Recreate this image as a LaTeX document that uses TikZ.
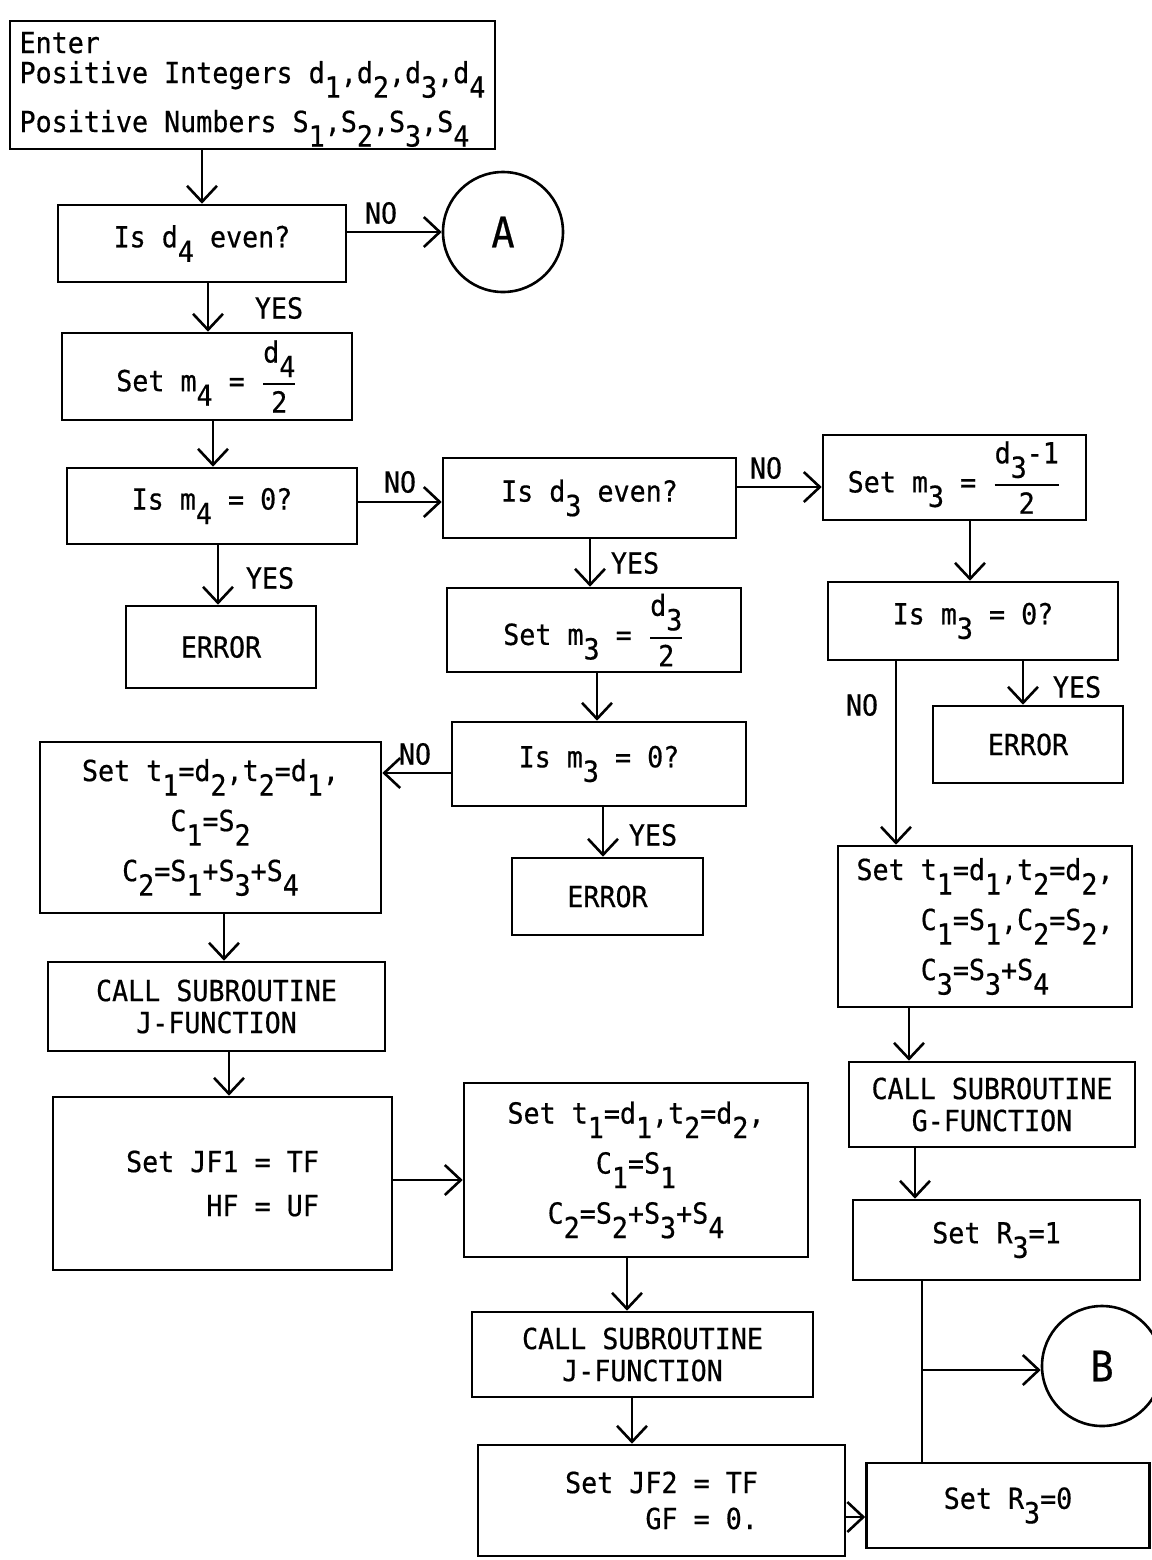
\documentclass[tikz,border=0pt]{standalone}
\usepackage{fontspec}
\usepackage{amsmath}
\setmonofont[FakeStretch=0.92,FakeBold=0.5]{DejaVu Sans Mono}
\usetikzlibrary{arrows.meta}
\newcommand\sbs[1]{\raisebox{-0.5em}{#1}}
\newcommand\frc[2]{$\genfrac{}{}{1pt}{0}{\hbox{\ttfamily #1}}{\hbox{\ttfamily #2}}$}
\newcommand\fsz{\fontsize{14.5}{16}\selectfont\ttfamily}
\tikzset{
  box/.style={draw, line width=1.3pt, inner sep=2pt, font=\fsz},
  circ/.style={draw, circle, line width=1.3pt, minimum size=60pt, inner sep=0pt, font=\fontsize{21}{24}\selectfont\ttfamily},
  lbl/.style={font=\fsz, inner sep=0pt},
  arr/.style={line width=1.3pt, -{Straight Barb[length=8pt,width=15pt]}},
  plain/.style={line width=1.3pt}
}
\begin{document}
\begin{tikzpicture}[x=0.5pt,y=-0.5pt]
\useasboundingbox (0,0) rectangle (1152,1560);
\clip (0,0) rectangle (1152,1560);

% boxes
\node[box, minimum width=242.5pt, minimum height=64pt, inner ysep=0pt, align=left] (enter) at (252.5,85)
  {\rule{0pt}{15pt}Enter\\[-1pt]Positive Integers d\sbs{1},d\sbs{2},d\sbs{3},d\sbs{4}\\[5pt]Positive Numbers S\sbs{1},S\sbs{2},S\sbs{3},S\sbs{4}};
\node[box, minimum width=144pt, minimum height=38.5pt] (d4even) at (202,243.5) {Is d\sbs{4} even?};
\node[circ] (A) at (503,232) {A};
\node[box, minimum width=145pt, minimum height=43.5pt] (setm4) at (207,376.5) {Set m\sbs{4} = \frc{d\sbs{4}}{2}};
\node[box, minimum width=145pt, minimum height=38pt] (m4zero) at (212,506) {Is m\sbs{4} = 0?};
\node[box, minimum width=95pt, minimum height=41pt] (err1) at (221,647) {ERROR};
\node[box, minimum width=146.5pt, minimum height=40pt] (d3even) at (589.5,498) {Is d\sbs{3} even?};
\node[box, minimum width=131.5pt, minimum height=42.5pt] (setm3b) at (954.5,477.5) {Set m\sbs{3} = \frc{d\sbs{3}-1}{2}};
\node[box, minimum width=147pt, minimum height=42pt] (setm3a) at (594,630) {Set m\sbs{3} = \frc{d\sbs{3}}{2}};
\node[box, minimum width=145pt, minimum height=39pt] (m3zeroR) at (973,621) {Is m\sbs{3} = 0?};
\node[box, minimum width=95pt, minimum height=38.5pt] (err3) at (1028,744.5) {ERROR};
\node[box, minimum width=147pt, minimum height=42pt] (m3zeroM) at (599,764) {Is m\sbs{3} = 0?};
\node[box, minimum width=95.5pt, minimum height=38.5pt] (err2) at (607.5,896.5) {ERROR};
\node[box, minimum width=170.5pt, minimum height=85.5pt, align=center] (tL) at (210.5,827.5)
  {Set t\sbs{1}=d\sbs{2},t\sbs{2}=d\sbs{1},\\[6pt]C\sbs{1}=S\sbs{2}\\[6pt]C\sbs{2}=S\sbs{1}+S\sbs{3}+S\sbs{4}};
\node[box, minimum width=147pt, minimum height=80.5pt, align=left] (tR) at (985,926.5)
  {Set t\sbs{1}=d\sbs{1},t\sbs{2}=d\sbs{2},\\[6pt]\phantom{Set }C\sbs{1}=S\sbs{1},C\sbs{2}=S\sbs{2},\\[6pt]\phantom{Set }C\sbs{3}=S\sbs{3}+S\sbs{4}};
\node[box, minimum width=168.5pt, minimum height=44.5pt, align=center] (callJL) at (216.5,1006.5)
  {CALL SUBROUTINE\\J-FUNCTION};
\node[box, minimum width=143pt, minimum height=42.5pt, align=center] (callG) at (992,1104.5)
  {CALL SUBROUTINE\\G-FUNCTION};
\node[box, minimum width=169.5pt, minimum height=86.5pt, align=right] (jf1) at (222.5,1183.5)
  {Set JF1 = TF\\[6pt]HF = UF};
\node[box, minimum width=172pt, minimum height=87pt, align=center] (tM) at (636,1170)
  {Set t\sbs{1}=d\sbs{1},t\sbs{2}=d\sbs{2},\\[6pt]C\sbs{1}=S\sbs{1}\\[6pt]C\sbs{2}=S\sbs{2}+S\sbs{3}+S\sbs{4}};
\node[box, minimum width=143.5pt, minimum height=40pt] (r31) at (996.5,1240) {Set R\sbs{3}=1};
\node[box, minimum width=170.5pt, minimum height=42.5pt, align=center] (callJM) at (642.5,1354.5)
  {CALL SUBROUTINE\\J-FUNCTION};
\node[circ] (B) at (1102,1366) {B};
\node[box, minimum width=183.5pt, minimum height=55.5pt, align=right] (jf2) at (661.5,1500.5)
  {Set JF2 = TF\\[2pt]GF = 0.};
\node[box, minimum width=141.5pt, minimum height=42.5pt] (r30) at (1008,1505.5) {Set R\sbs{3}=0};

% connectors
\draw[arr] (202,0 |- enter.south) -- (d4even.north);
\draw[arr] (d4even.east |- A.west) -- (A.west);
\draw[arr] (208,0 |- d4even.south) -- (208,0 |- setm4.north);
\draw[arr] (213,0 |- setm4.south) -- (213,0 |- m4zero.north);
\draw[arr] (218,0 |- m4zero.south) -- (218,0 |- err1.north);
\draw[arr] (m4zero.east |- 0,502) -- (d3even.west |- 0,502);
\draw[arr] (d3even.east |- 0,487) -- (setm3b.west |- 0,487);
\draw[arr] (590,0 |- d3even.south) -- (590,0 |- setm3a.north);
\draw[arr] (597,0 |- setm3a.south) -- (597,0 |- m3zeroM.north);
\draw[arr] (603,0 |- m3zeroM.south) -- (603,0 |- err2.north);
\draw[arr] (m3zeroM.west |- 0,773) -- (tL.east |- 0,773);
\draw[arr] (970,0 |- setm3b.south) -- (970,0 |- m3zeroR.north);
\draw[arr] (1023,0 |- m3zeroR.south) -- (1023,0 |- err3.north);
\draw[arr] (896,0 |- m3zeroR.south) -- (896,0 |- tR.north);
\draw[arr] (224,0 |- tL.south) -- (224,0 |- callJL.north);
\draw[arr] (229,0 |- callJL.south) -- (229,0 |- jf1.north);
\draw[arr] (jf1.east |- 0,1180) -- (tM.west |- 0,1180);
\draw[arr] (627,0 |- tM.south) -- (627,0 |- callJM.north);
\draw[arr] (632,0 |- callJM.south) -- (632,0 |- jf2.north);
\draw[arr] (jf2.east |- 0,1517) -- (r30.west |- 0,1517);
\draw[arr] (909,0 |- tR.south) -- (909,0 |- callG.north);
\draw[arr] (915,0 |- callG.south) -- (915,0 |- r31.north);
\draw[plain] (922,0 |- r31.south) -- (922,0 |- r30.north);
\coordinate (br) at (922,1370);
\draw[arr] (br) -- (B.west |- br);

% labels
\node[lbl] (n1) at (381,213) {NO};
\node[lbl] (y1) at (279,308) {YES};
\node[lbl] (y2) at (270,578) {YES};
\node[lbl] (n2) at (400,482) {NO};
\node[lbl] (n3) at (766,468) {NO};
\node[lbl] (y3) at (635,563) {YES};
\node[lbl] (y4) at (653,835) {YES};
\node[lbl] (n4) at (415,754) {NO};
\node[lbl] (y5) at (1077,687) {YES};
\node[lbl] (n5) at (862,705) {NO};
\end{tikzpicture}
\end{document}
